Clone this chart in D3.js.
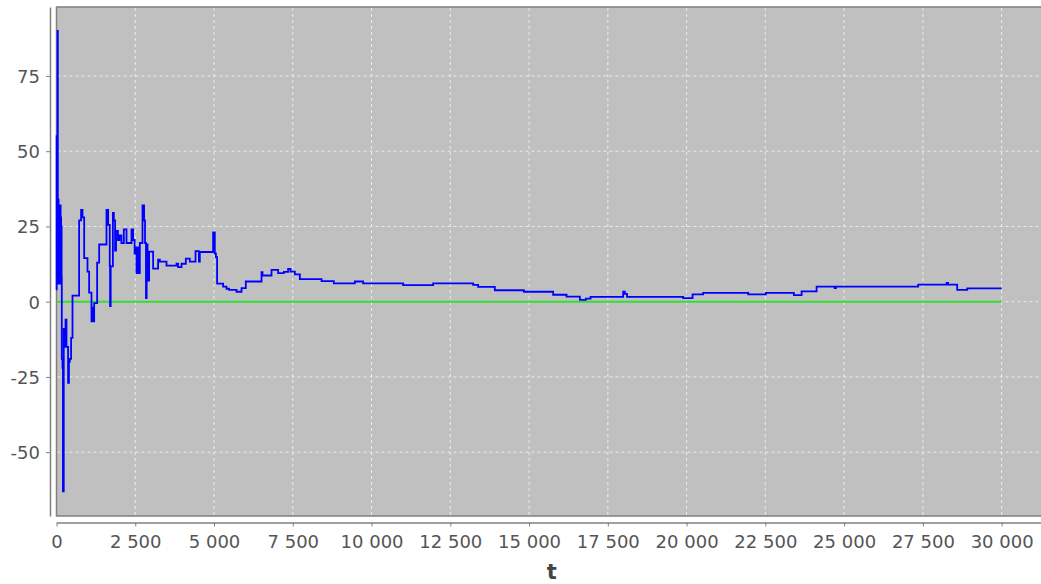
<!DOCTYPE html>
<html>
<head>
<meta charset="utf-8">
<script src="https://cdn.jsdelivr.net/npm/d3@7"></script>
<style>
  body { margin: 0; background: #fff; }
  text { font-family: "DejaVu Sans", sans-serif; }
</style>
</head>
<body>
<svg id="chart" width="1041" height="584"></svg>
<script>
// step values of the running estimate
const tSteps = [
  0, 4, 10, 18, 26, 34, 42, 50, 58, 66, 74, 82, 90, 98, 106, 114, 122, 130, 138, 146,
  154, 162, 168, 190, 205, 230, 255, 286, 317, 368, 395, 422, 463, 508, 718, 781, 825,
  878, 984, 1036, 1111, 1140, 1160, 1195, 1290, 1354, 1587, 1640, 1690, 1700, 1720,
  1790, 1820, 1860, 1890, 1950, 2000, 2060, 2137, 2222, 2381, 2432, 2480, 2517, 2540,
  2560, 2580, 2600, 2620, 2645, 2730, 2781, 2810, 2840, 2862, 2890, 2940, 3067, 3225,
  3280, 3492, 3810, 3860, 3968, 4105, 4232, 4413, 4520, 4549, 4971, 5025, 5060, 5098,
  5289, 5397, 5479, 5714, 5873, 6009, 6508, 6540, 6825, 7035, 7216, 7352, 7429, 7565,
  7724, 8413, 8803, 9470, 9733, 11003, 11956, 13225, 13384, 13914, 14835, 15765, 16190,
  16613, 16803, 16952, 17987, 18040, 18110, 19892, 20190, 20527, 21956, 22517, 23406,
  23651, 24127, 24700, 24740, 27352, 28254, 28300, 28590, 28908, 30000
];
const estimate = [
  4, 55, 22, 8, 35, 90, 30, 6, 34, 10, 28, 6, 30, 8, 26, 6, 32, 10, 28, 6,
  25, 8, -19, -22, -63, -9, -15, -6, -15, -27, -20, -19, -12, 2, 27, 30.5, 28,
  14.5, 10, 3, -6.5, -2, -6.5, -0.5, 13, 19, 30.5, 25.5, 12, -1.5, 11.7,
  29.5, 27, 17, 23.5, 20.5, 22, 19.5, 24, 19.5, 24, 20.5, 16, 18, 9.5,
  17, 9.5, 18, 9.5, 19.5, 32, 27, 19.5, 1.2, 19, 7, 16.6, 11, 14,
  13.3, 12, 12.6, 11.5, 12.6, 14.3, 13.3, 16.8, 13.3, 16.5, 23, 16, 14.8, 6,
  5, 4.3, 3.9, 3.3, 4.5, 6.7, 9.8, 8.7, 10.6, 9.5, 9.9, 10.9, 10, 9.1,
  7.5, 6.8, 6.1, 6.7, 6.1, 5.5, 6.1, 5.6, 4.9, 3.8, 3.3, 2.3, 1.7,
  0.6, 1.0, 1.6, 3.3, 2.6, 1.6, 1.2, 2.4, 2.9, 2.4, 2.9, 2.2,
  3.4, 5.0, 4.5, 5.0, 5.7, 6.2, 5.7, 3.9, 4.4, 4.4
];
const zeroT = [0, 30000];
const zeroValues = [0, 0];

const xTicks = d3.range(0, 30001, 2500);
const yTicks = [-50, -25, 0, 25, 50, 75];
const xLabel = "t";

const svg = d3.select("#chart");
const plot = { left: 56.5, right: 1041, top: 7, bottom: 516 };

const x = d3.scaleLinear().domain([0, 31250]).range([plot.left, plot.right]);
const y = d3.scaleLinear().domain([-71.2, 97.9]).range([plot.bottom, plot.top]);

// plot background
svg.append("rect")
  .attr("x", plot.left).attr("y", plot.top)
  .attr("width", plot.right - plot.left + 2).attr("height", plot.bottom - plot.top)
  .attr("fill", "#c0c0c0")
  .attr("stroke", "#808080")
  .attr("stroke-width", 1.5);

// gridlines
svg.append("g").selectAll("line").data(xTicks.slice(1)).join("line")
  .attr("x1", d => x(d)).attr("x2", d => x(d))
  .attr("y1", plot.top + 1).attr("y2", plot.bottom - 1)
  .attr("stroke", "#ececec").attr("stroke-width", 1).attr("stroke-dasharray", "3,3");
svg.append("g").selectAll("line").data(yTicks).join("line")
  .attr("x1", plot.left + 1).attr("x2", plot.right)
  .attr("y1", d => y(d)).attr("y2", d => y(d))
  .attr("stroke", "#ececec").attr("stroke-width", 1).attr("stroke-dasharray", "3,3");

// axes
const xAxis = svg.append("g")
  .attr("transform", `translate(0,522.5)`)
  .call(d3.axisBottom(x).tickValues(xTicks).tickSize(4).tickSizeOuter(0)
    .tickFormat(d => d3.format(",")(d).replace(/,/g, " ")));
const yAxis = svg.append("g")
  .attr("transform", `translate(50,0)`)
  .call(d3.axisLeft(y).tickValues(yTicks).tickSize(4).tickSizeOuter(0)
    .tickFormat(d => String(d)));

[xAxis, yAxis].forEach(g => {
  g.select(".domain").attr("stroke", "#808080").attr("stroke-width", 1.5);
  g.selectAll(".tick line").attr("stroke", "#808080");
  g.selectAll(".tick text")
    .attr("fill", "#555")
    .attr("font-size", 18)
    .attr("font-family", "DejaVu Sans, sans-serif");
});
xAxis.selectAll(".tick text").attr("dy", null).attr("y", 25);
yAxis.selectAll(".tick text").attr("x", -10).attr("dy", "0.36em");

// axis label
svg.append("text")
  .attr("x", (plot.left + plot.right) / 2 + 3)
  .attr("y", 579)
  .attr("text-anchor", "middle")
  .attr("font-size", 21)
  .attr("font-weight", "bold")
  .attr("fill", "#444")
  .text(xLabel);

// series
const stepLine = d3.line()
  .x(d => x(d[0]))
  .y(d => y(d[1]))
  .curve(d3.curveStepAfter);

svg.append("path")
  .datum(d3.zip(zeroT, zeroValues))
  .attr("fill", "none")
  .attr("stroke", "#33dd33")
  .attr("stroke-width", 2)
  .attr("d", stepLine);

svg.append("path")
  .datum(d3.zip(tSteps, estimate))
  .attr("fill", "none")
  .attr("stroke", "#0000ff")
  .attr("stroke-width", 1.8)
  .attr("d", stepLine);
</script>
</body>
</html>
